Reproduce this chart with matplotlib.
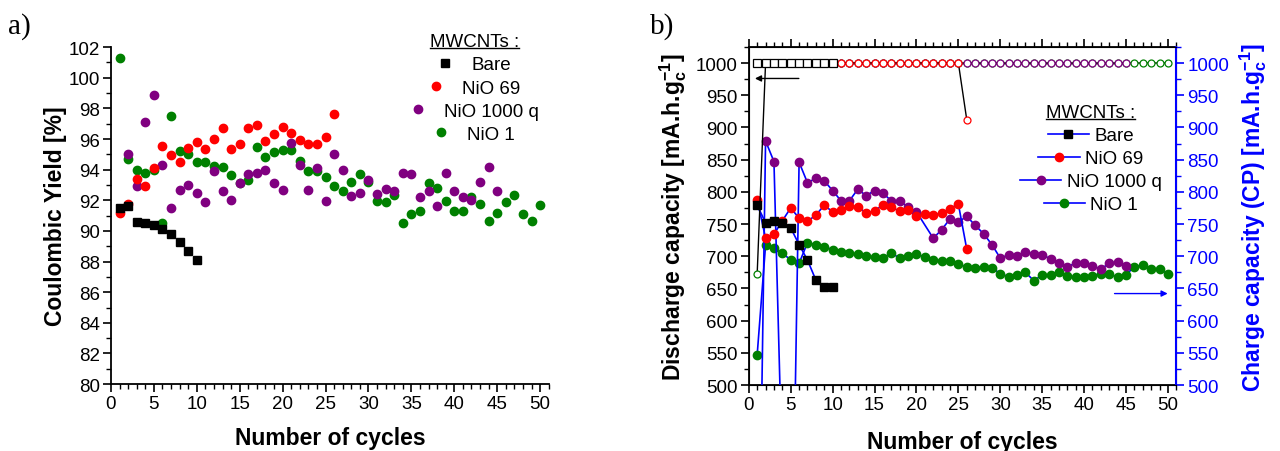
import matplotlib
matplotlib.use('Agg')
import matplotlib.pyplot as plt
from matplotlib.lines import Line2D
from matplotlib.ticker import MultipleLocator

plt.rcParams['font.family'] = ['Liberation Sans', 'DejaVu Sans']
plt.rcParams['mathtext.fontset'] = 'custom'
plt.rcParams['mathtext.rm'] = 'Liberation Sans'
plt.rcParams['mathtext.bf'] = 'Liberation Sans:bold'
plt.rcParams['mathtext.it'] = 'Liberation Sans:italic'

names = ['Bare', 'NiO 69', 'NiO 1000 q', 'NiO 1']
colors = ['black', '#ff0000', '#800080', '#008000']
markers = ['s', 'o', 'o', 'o']

# a) coulombic yield [%]
cy_cycles = [list(range(1, 11)), list(range(1, 27)), list(range(2, 46)), list(range(1, 51))]
cy_bare = [91.5, 91.6, 90.6, 90.5, 90.4, 90.1, 89.8, 89.3, 88.7, 88.1]
cy_nio69 = [91.2, 91.75, 93.4, 92.95, 94.1, 95.55, 94.95, 94.5, 95.4, 95.8, 95.35, 96.0, 96.7,
            95.35, 95.7, 96.7, 96.9, 95.9, 96.3, 96.8, 96.4, 95.95, 95.7, 95.7, 96.1, 97.6]
cy_nio1000q = [95.0, 92.95, 97.1, 98.9, 94.3, 91.5, 92.7, 93.0, 92.5, 91.9, 93.9, 92.6, 92.0,
               93.1, 93.7, 93.75, 94.0, 93.1, 92.7, 95.75, 94.3, 92.7, 94.1, 91.95, 95.05, 94.0,
               92.3, 92.5, 93.3, 92.4, 92.75, 92.6, 93.8, 93.7, 92.2, 92.6, 91.6, 93.8, 92.6,
               92.2, 92.0, 93.2, 94.2, 92.6]
cy_nio1 = [101.3, 94.7, 93.95, 93.8, 93.95, 90.5, 97.5, 95.2, 95.05, 94.5, 94.5, 94.25, 94.2,
           93.65, 93.1, 93.3, 95.5, 94.85, 95.15, 95.25, 95.25, 94.55, 93.9, 93.9, 93.5, 92.95,
           92.6, 93.2, 93.7, 93.2, 91.95, 91.9, 92.35, 90.5, 91.1, 91.3, 93.1, 92.8, 91.95,
           91.3, 91.3, 92.2, 91.75, 90.65, 91.2, 91.9, 92.35, 91.1, 90.65, 91.7]
cy_values = [cy_bare, cy_nio69, cy_nio1000q, cy_nio1]

# b) discharge capacity [mA.h/g] (values below 500 are off the scale)
dc_cycles = [list(range(1, 11)), list(range(1, 27)),
             [c for c in range(1, 46) if c != 21], list(range(1, 51))]
dc_bare = [779, 752, 755, 751, 744, 718, 694, 663, 652, 652]
dc_nio69 = [788, 728, 734, 755, 775, 759, 754, 764, 779, 769, 771, 778, 777, 767, 770, 780,
            776, 770, 771, 763, 765, 764, 767, 774, 781, 711]
dc_nio1000q = [0, 879, 847, 360, 60, 846, 814, 821, 817, 802, 786, 786, 804, 794, 802, 798,
               786, 785, 777, 769, 728, 741, 758, 753, 762, 748, 735, 718, 697, 702, 700, 706,
               704, 702, 696, 689, 684, 689, 689, 685, 680, 689, 691, 685]
dc_nio1 = [547, 717, 712, 705, 694, 689, 721, 718, 715, 710, 707, 705, 703, 700, 699, 697,
           705, 697, 701, 703, 699, 694, 693, 692, 688, 683, 682, 684, 682, 673, 668, 671,
           675, 662, 671, 671, 675, 669, 667, 667, 670, 673, 672, 668, 671, 684, 686, 680,
           680, 673]
dc_values = [dc_bare, dc_nio69, dc_nio1000q, dc_nio1]

# b) charge capacity (right axis)
ch_cycles = [list(range(1, 11)), list(range(1, 27)), list(range(1, 46)), list(range(1, 51))]
ch_bare = [1000, 1000, 1000, 1000, 1000, 1000, 1000, 1000, 1000, 1000]
ch_nio69 = [1000, 1000, 1000, 1000, 1000, 1000, 1000, 1000, 1000, 1000, 1000, 1000, 1000,
            1000, 1000, 1000, 1000, 1000, 1000, 1000, 1000, 1000, 1000, 1000, 1000, 912]
ch_nio1000q = [1000, 1000, 1000, 1000, 1000, 1000, 1000, 1000, 1000, 1000, 1000, 1000, 1000,
               1000, 1000, 1000, 1000, 1000, 1000, 1000, 1000, 1000, 1000, 1000, 1000, 1000,
               1000, 1000, 1000, 1000, 1000, 1000, 1000, 1000, 1000, 1000, 1000, 1000, 1000,
               1000, 1000, 1000, 1000, 1000, 1000]
ch_nio1 = [673, 1000, 1000, 1000, 1000, 1000, 1000, 1000, 1000, 1000, 1000, 1000, 1000, 1000,
           1000, 1000, 1000, 1000, 1000, 1000, 1000, 1000, 1000, 1000, 1000, 1000, 1000, 1000,
           1000, 1000, 1000, 1000, 1000, 1000, 1000, 1000, 1000, 1000, 1000, 1000, 1000, 1000,
           1000, 1000, 1000, 1000, 1000, 1000, 1000, 1000]
ch_values = [ch_bare, ch_nio69, ch_nio1000q, ch_nio1]

tick_fs = 13.5
label_fs = 16.5

fig = plt.figure(figsize=(12.8, 4.52), dpi=100)
ax1 = fig.add_axes([0.0867, 0.148, 0.342, 0.7456])
ax = fig.add_axes([0.585, 0.146, 0.334, 0.748])
ax2 = ax.twinx()


def center_legend(leg):
    for col in leg._legend_handle_box.get_children():
        col.align = 'center'


# ---- a) ----
for i in range(4):
    ax1.plot(cy_cycles[i], cy_values[i], linestyle='none', marker=markers[i],
             color=colors[i], markersize=5.4 if i == 0 else 6.0, label=names[i],
             zorder=10 - i)
ax1.set_xlim(0, 51)
ax1.set_ylim(80, 102)
ax1.xaxis.set_major_locator(MultipleLocator(5))
ax1.xaxis.set_minor_locator(MultipleLocator(1))
ax1.yaxis.set_major_locator(MultipleLocator(2))
ax1.yaxis.set_minor_locator(MultipleLocator(1))
ax1.spines['top'].set_visible(False)
ax1.spines['right'].set_visible(False)
for s in ['left', 'bottom']:
    ax1.spines[s].set_linewidth(1.3)
ax1.tick_params(which='major', length=6, width=1.2, labelsize=tick_fs, pad=2)
ax1.tick_params(which='minor', length=3.5, width=1.0)
ax1.set_xlabel('Number of cycles', fontsize=label_fs, fontweight='bold', labelpad=10)
ax1.set_ylabel('Coulombic Yield [%]', fontsize=label_fs, fontweight='bold', labelpad=1)
leg1 = ax1.legend(title='MWCNTs :', loc='upper center',
                  bbox_to_anchor=(0.83, 1.08), frameon=False, fontsize=tick_fs,
                  title_fontsize=tick_fs, handlelength=0.8, handletextpad=1.0,
                  labelspacing=0.32, borderpad=0.2)
center_legend(leg1)

# ---- b) ----
for i in range(4):
    ax.plot(dc_cycles[i], dc_values[i], color='#0000ff', linewidth=1.2,
            marker=markers[i], markersize=5.8 if i == 0 else 6.0,
            markerfacecolor=colors[i], markeredgecolor=colors[i],
            label=names[i], zorder=10 - i)
for i in [3, 2, 1, 0]:
    ax2.plot(ch_cycles[i], ch_values[i], color='black', linewidth=1.0,
             marker=markers[i], markersize=5.4 if i == 0 else 5.0,
             markerfacecolor='white', markeredgecolor=colors[i], markeredgewidth=0.9)

for a in (ax, ax2):
    a.set_xlim(0, 51)
    a.set_ylim(500, 1025)
    a.yaxis.set_major_locator(MultipleLocator(50))
    a.yaxis.set_minor_locator(MultipleLocator(25))
ax.xaxis.set_major_locator(MultipleLocator(5))
ax.xaxis.set_minor_locator(MultipleLocator(1))
for s in ['left', 'bottom', 'top']:
    ax.spines[s].set_linewidth(1.3)
ax2.spines['right'].set_color('#0000ff')
ax2.spines['right'].set_linewidth(1.5)
ax.tick_params(which='major', length=6, width=1.2, labelsize=tick_fs, pad=2, top=True)
ax.tick_params(which='minor', length=3.5, width=1.0, top=True)
ax2.tick_params(which='major', length=6, width=1.2, labelsize=tick_fs, pad=2,
                colors='#0000ff')
ax2.tick_params(which='minor', length=3.5, width=1.0, colors='#0000ff')
ax.set_xlabel('Number of cycles', fontsize=label_fs, fontweight='bold', labelpad=12)
ax.set_ylabel(r'Discharge capacity [mA.h.g$_\mathbf{c}^\mathbf{-1}$]',
              fontsize=label_fs, fontweight='bold', labelpad=5)
ax2.set_ylabel(r'Charge capacity (CP) [mA.h.g$_\mathbf{c}^\mathbf{-1}$]',
               fontsize=label_fs, fontweight='bold', color='#0000ff', labelpad=6)

ax.annotate('', xy=(0.4, 976), xytext=(6.3, 976),
            arrowprops=dict(arrowstyle='-|>', color='black', lw=1.0, mutation_scale=9))
ax2.annotate('', xy=(50.3, 642), xytext=(43.3, 642),
             arrowprops=dict(arrowstyle='-|>', color='#0000ff', lw=1.0, mutation_scale=9))

h, l = ax.get_legend_handles_labels()
leg2 = ax2.legend(h, l, title='MWCNTs :', loc='upper center',
                  bbox_to_anchor=(0.8, 0.87), frameon=False, fontsize=tick_fs,
                  title_fontsize=tick_fs, handlelength=2.2, handletextpad=0.3,
                  labelspacing=0.32, borderpad=0.2)
center_legend(leg2)

fig.text(0.006, 0.925, 'a)', family='Liberation Serif', fontsize=21)
fig.text(0.508, 0.925, 'b)', family='Liberation Serif', fontsize=21)

# underline the legend titles
fig.canvas.draw()
for leg in (leg1, leg2):
    bb = leg.get_title().get_window_extent().transformed(fig.transFigure.inverted())
    fig.add_artist(Line2D([bb.x0, bb.x1], [bb.y0 + 0.004, bb.y0 + 0.004],
                          transform=fig.transFigure, color='black', linewidth=1.0))

fig.savefig('out.png', dpi=100)
